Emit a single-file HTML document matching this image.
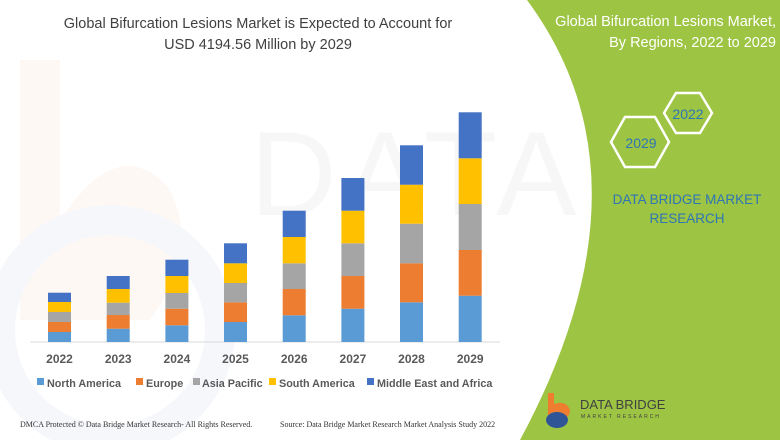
<!DOCTYPE html>
<html><head><meta charset="utf-8"><style>
html,body{margin:0;padding:0;background:#fff;}
svg{display:block;}
</style></head><body>
<svg width="780" height="440" viewBox="0 0 780 440" xmlns="http://www.w3.org/2000/svg" font-family="Liberation Sans, sans-serif">
<rect width="780" height="440" fill="#fff"/>
<!-- faint watermark -->
<path d="M20,60 L60,60 L60,220 Q120,130 170,190 Q200,250 150,320 L20,320 Z" fill="#fdf3ee" opacity="0.6"/>
<circle cx="110" cy="330" r="110" fill="none" stroke="#f5f7fb" stroke-width="30"/>
<text x="250" y="215" font-size="120" fill="#f7f7f7" letter-spacing="8">DATA B</text>
<!-- green panel -->
<path d="M527,0 Q660,180 520,440 L780,440 L780,0 Z" fill="#9dc443"/>
<text x="776" y="26" font-size="14.5" fill="#fff" text-anchor="end">Global Bifurcation Lesions Market,</text>
<text x="776" y="47" font-size="14.5" fill="#fff" text-anchor="end">By Regions, 2022 to 2029</text>
<polygon points="664,113 676,93 700,93 712,113 700,133 676,133" fill="none" stroke="#fff" stroke-width="2.5"/>
<text x="688" y="119" font-size="14" fill="#2e75b6" text-anchor="middle">2022</text>
<polygon points="611,142 625,117 655,117 669,142 655,167 625,167" fill="none" stroke="#fff" stroke-width="2.5"/>
<text x="641" y="148" font-size="14" fill="#2e75b6" text-anchor="middle">2029</text>
<text x="687" y="204" font-size="13.5" fill="#2e75b6" text-anchor="middle">DATA BRIDGE MARKET</text>
<text x="687" y="223" font-size="13.5" fill="#2e75b6" text-anchor="middle">RESEARCH</text>
<!-- logo -->
<path d="M548,393 L554,393 L554,404 Q566,400 570,410 Q570,420 556,420 L548,420 Z" fill="#ee7d31"/>
<ellipse cx="557" cy="420" rx="11" ry="8" fill="#2f5597"/>
<text x="580" y="409" font-size="13" fill="#404040">DATA BRIDGE</text>
<text x="581" y="418" font-size="5" fill="#404040" letter-spacing="2">MARKET RESEARCH</text>
<!-- title -->
<text x="258" y="28" font-size="14.5" fill="#404040" text-anchor="middle">Global Bifurcation Lesions Market is Expected to Account for</text>
<text x="258" y="49" font-size="14.5" fill="#404040" text-anchor="middle">USD 4194.56 Million by 2029</text>
<!-- axis -->
<line x1="30" y1="342" x2="500" y2="342" stroke="#d9d9d9" stroke-width="1"/>
<g id="bars">
<rect x="48" y="332" width="23" height="10" fill="#5b9bd5"/><rect x="48" y="322" width="23" height="10" fill="#ed7d31"/><rect x="48" y="312" width="23" height="10" fill="#a5a5a5"/><rect x="48" y="302" width="23" height="10" fill="#ffc000"/><rect x="48" y="292.7" width="23" height="9.3" fill="#4472c4"/>
<rect x="106.7" y="328.7" width="23" height="13.3" fill="#5b9bd5"/><rect x="106.7" y="315" width="23" height="13.7" fill="#ed7d31"/><rect x="106.7" y="302.7" width="23" height="12.3" fill="#a5a5a5"/><rect x="106.7" y="289" width="23" height="13.7" fill="#ffc000"/><rect x="106.7" y="276" width="23" height="13" fill="#4472c4"/>
<rect x="165.4" y="325.3" width="23" height="16.7" fill="#5b9bd5"/><rect x="165.4" y="308.7" width="23" height="16.6" fill="#ed7d31"/><rect x="165.4" y="293" width="23" height="15.7" fill="#a5a5a5"/><rect x="165.4" y="276" width="23" height="17" fill="#ffc000"/><rect x="165.4" y="259.7" width="23" height="16.3" fill="#4472c4"/>
<rect x="224" y="322" width="23" height="20" fill="#5b9bd5"/><rect x="224" y="302.3" width="23" height="19.7" fill="#ed7d31"/><rect x="224" y="283" width="23" height="19.3" fill="#a5a5a5"/><rect x="224" y="263.3" width="23" height="19.7" fill="#ffc000"/><rect x="224" y="243.3" width="23" height="20" fill="#4472c4"/>
<rect x="282.7" y="315.3" width="23" height="26.7" fill="#5b9bd5"/><rect x="282.7" y="289" width="23" height="26.3" fill="#ed7d31"/><rect x="282.7" y="263.3" width="23" height="25.7" fill="#a5a5a5"/><rect x="282.7" y="237" width="23" height="26.3" fill="#ffc000"/><rect x="282.7" y="210.7" width="23" height="26.3" fill="#4472c4"/>
<rect x="341.4" y="308.7" width="23" height="33.3" fill="#5b9bd5"/><rect x="341.4" y="276" width="23" height="32.7" fill="#ed7d31"/><rect x="341.4" y="243.3" width="23" height="32.7" fill="#a5a5a5"/><rect x="341.4" y="210.7" width="23" height="32.6" fill="#ffc000"/><rect x="341.4" y="178" width="23" height="32.7" fill="#4472c4"/>
<rect x="400" y="302.3" width="23" height="39.7" fill="#5b9bd5"/><rect x="400" y="263.3" width="23" height="39" fill="#ed7d31"/><rect x="400" y="223.7" width="23" height="39.6" fill="#a5a5a5"/><rect x="400" y="184.7" width="23" height="39" fill="#ffc000"/><rect x="400" y="145.3" width="23" height="39.4" fill="#4472c4"/>
<rect x="458.7" y="295.7" width="23" height="46.3" fill="#5b9bd5"/><rect x="458.7" y="250" width="23" height="45.7" fill="#ed7d31"/><rect x="458.7" y="204" width="23" height="46" fill="#a5a5a5"/><rect x="458.7" y="158.3" width="23" height="45.7" fill="#ffc000"/><rect x="458.7" y="112.3" width="23" height="46" fill="#4472c4"/>
</g>
<g font-size="12" font-weight="bold" fill="#595959" text-anchor="middle">
<text x="59.5" y="363">2022</text><text x="118.2" y="363">2023</text><text x="176.9" y="363">2024</text><text x="235.5" y="363">2025</text><text x="294.2" y="363">2026</text><text x="352.9" y="363">2027</text><text x="411.5" y="363">2028</text><text x="470.2" y="363">2029</text>
</g>
<g font-size="10.8" font-weight="bold" fill="#595959">
<rect x="37" y="378" width="7" height="7" fill="#5b9bd5"/><text x="47" y="387">North America</text>
<rect x="136" y="378" width="7" height="7" fill="#ed7d31"/><text x="146" y="387">Europe</text>
<rect x="193" y="378" width="7" height="7" fill="#a5a5a5"/><text x="202" y="387">Asia Pacific</text>
<rect x="269" y="378" width="7" height="7" fill="#ffc000"/><text x="279" y="387">South America</text>
<rect x="367" y="378" width="7" height="7" fill="#4472c4"/><text x="377" y="387">Middle East and Africa</text>
</g>
<g font-family="Liberation Serif, serif" font-size="8" fill="#333">
<text x="20" y="427">DMCA Protected © Data Bridge Market Research- All Rights Reserved.</text>
<text x="280" y="427">Source: Data Bridge Market Research Market Analysis Study 2022</text>
</g>
</svg>
</body></html>
